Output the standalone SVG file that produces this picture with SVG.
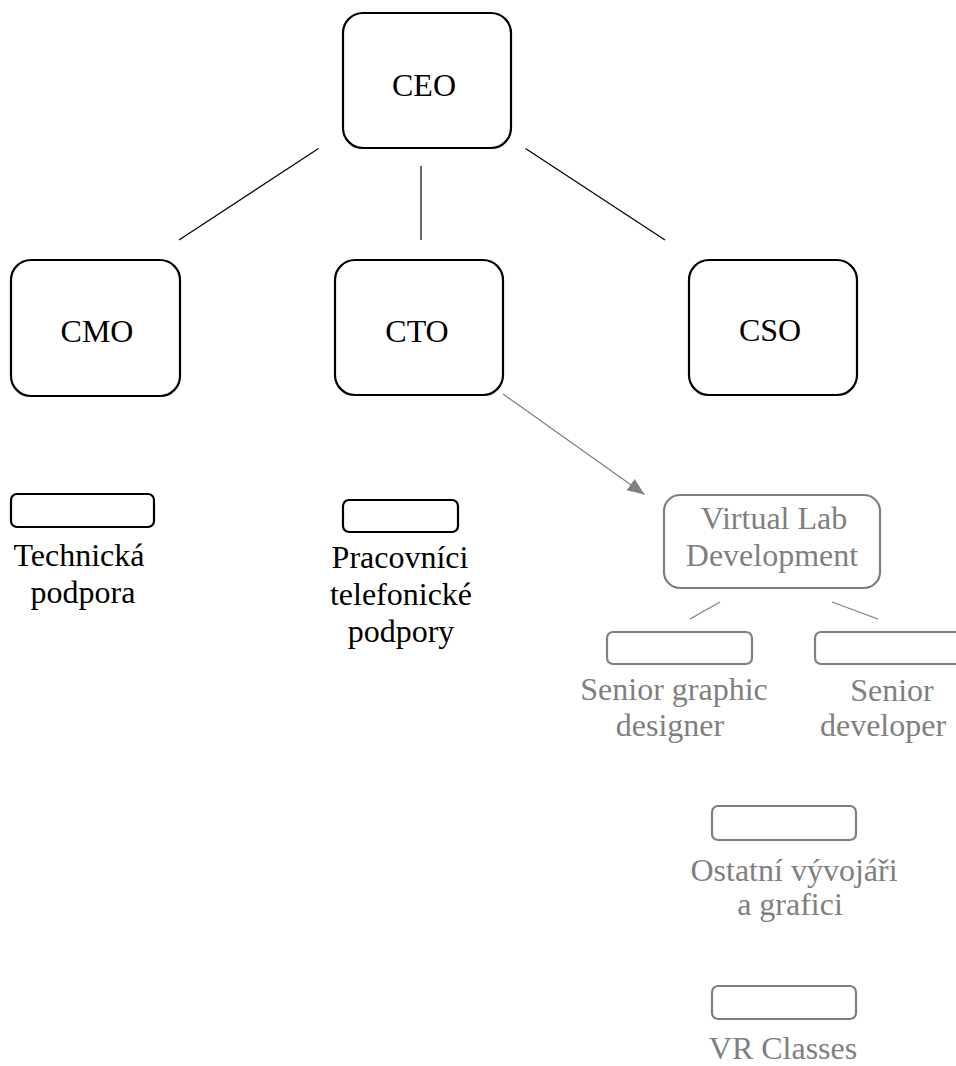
<svg xmlns="http://www.w3.org/2000/svg" width="956" height="1066" viewBox="0 0 956 1066">
  <style>
    .big { fill: #ffffff; stroke: #000000; stroke-width: 2.2; }
    .small { fill: #ffffff; stroke: #000000; stroke-width: 2.2; }
    .gbox { fill: #ffffff; stroke: #7f7f7f; stroke-width: 2.2; }
    .t { font-family: "Liberation Serif", "Times New Roman", serif; font-size: 32px; fill: #000000; text-anchor: middle; }
    .g { fill: #7f7f7f; }
    .link { stroke: #000000; stroke-width: 1.2; fill: none; }
    .glink { stroke: #7f7f7f; stroke-width: 1.2; fill: none; }
  </style>
  <defs>
    <marker id="arrow" markerUnits="userSpaceOnUse" markerWidth="20" markerHeight="20" refX="17" refY="7" orient="auto">
      <path d="M0,0 L17,7 L0,14 Z" fill="#7f7f7f"/>
    </marker>
  </defs>
  <rect width="956" height="1066" fill="#ffffff"/>

  <g id="connectors">
    <line class="link" x1="318.5" y1="148.5" x2="179" y2="240"/>
    <line class="link" x1="421" y1="166" x2="421" y2="240"/>
    <line class="link" x1="525.5" y1="148.5" x2="665" y2="240"/>
    <line class="glink" x1="503" y1="394" x2="644.5" y2="494.5" marker-end="url(#arrow)"/>
    <line class="glink" x1="720" y1="602" x2="690" y2="619"/>
    <line class="glink" x1="832" y1="602" x2="878" y2="619"/>
  </g>

  <g id="ceo">
    <rect class="big" x="343" y="13" width="168" height="135" rx="20"/>
    <text class="t" x="424" y="96">CEO</text>
  </g>
  <g id="cmo">
    <rect class="big" x="11" y="260" width="169" height="136" rx="20"/>
    <text class="t" x="97" y="342">CMO</text>
  </g>
  <g id="cto">
    <rect class="big" x="335" y="260" width="168" height="135" rx="20"/>
    <text class="t" x="417" y="342">CTO</text>
  </g>
  <g id="cso">
    <rect class="big" x="689" y="260" width="168" height="135" rx="20"/>
    <text class="t" x="770" y="341">CSO</text>
  </g>

  <g id="technicka-podpora">
    <rect class="small" x="11" y="494" width="143" height="33" rx="6"/>
    <text class="t" x="79" y="566">Technická</text>
    <text class="t" x="83" y="603">podpora</text>
  </g>
  <g id="pracovnici-telefonicke-podpory">
    <rect class="small" x="343" y="500" width="115" height="32" rx="6"/>
    <text class="t" x="400" y="568">Pracovníci</text>
    <text class="t" x="401" y="605">telefonické</text>
    <text class="t" x="401" y="642">podpory</text>
  </g>

  <g id="virtual-lab-development">
    <rect class="gbox" x="664" y="495" width="216" height="93" rx="16"/>
    <text class="t g" x="774" y="529">Virtual Lab</text>
    <text class="t g" x="772" y="566">Development</text>
  </g>
  <g id="senior-graphic-designer">
    <rect class="gbox" x="607" y="632" width="145" height="32" rx="6"/>
    <text class="t g" x="674" y="700">Senior graphic</text>
    <text class="t g" x="670" y="736">designer</text>
  </g>
  <g id="senior-developer">
    <rect class="gbox" x="815" y="632" width="150" height="32" rx="6"/>
    <text class="t g" x="892" y="701">Senior</text>
    <text class="t g" x="883" y="736">developer</text>
  </g>
  <g id="ostatni-vyvojari">
    <rect class="gbox" x="712" y="806" width="144" height="34" rx="6"/>
    <text class="t g" x="794" y="881">Ostatní vývojáři</text>
    <text class="t g" x="790" y="915">a grafici</text>
  </g>
  <g id="vr-classes">
    <rect class="gbox" x="712" y="986" width="144" height="33" rx="6"/>
    <text class="t g" x="783" y="1059">VR Classes</text>
  </g>
</svg>
